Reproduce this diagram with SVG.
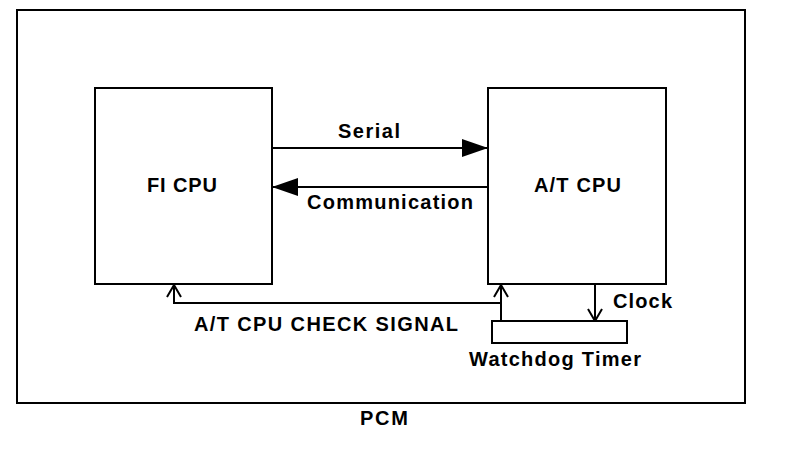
<svg xmlns="http://www.w3.org/2000/svg" width="800" height="454" viewBox="0 0 800 454">
<style>
.box{fill:#fff;stroke:#000;stroke-width:2}
.ln{fill:none;stroke:#000;stroke-width:2}
.t{font-family:"Liberation Sans",Arial,sans-serif;font-weight:bold;font-size:20px;fill:#000}
</style>
<defs>
<marker id="fill" markerUnits="userSpaceOnUse" markerWidth="26" markerHeight="20" refX="26" refY="10" orient="auto">
<path d="M0,1 L26,10 L0,19 Z" fill="#000"/>
</marker>
<marker id="open" markerUnits="userSpaceOnUse" markerWidth="14" markerHeight="20" refX="13" refY="10" orient="auto">
<path d="M1,3 L13,10 L1,17" fill="none" stroke="#000" stroke-width="2"/>
</marker>
</defs>
<rect width="800" height="454" fill="#fff"/>
<g id="pcm">
<rect class="box" x="17" y="10" width="728" height="393" fill="none"/>
<text class="t" x="360" y="425" textLength="48" lengthAdjust="spacing">PCM</text>
</g>
<g id="fi-cpu">
<rect class="box" x="95" y="88" width="177" height="196"/>
<text class="t" x="147" y="192" textLength="70" lengthAdjust="spacing">FI CPU</text>
</g>
<g id="at-cpu">
<rect class="box" x="488" y="88" width="178" height="196"/>
<text class="t" x="534" y="192" textLength="87" lengthAdjust="spacing">A/T CPU</text>
</g>
<g id="watchdog">
<rect class="box" x="492" y="321" width="135" height="22"/>
<text class="t" x="469" y="366" textLength="172" lengthAdjust="spacing">Watchdog Timer</text>
</g>
<g id="connectors">
<line class="ln" x1="272" y1="148" x2="488" y2="148" marker-end="url(#fill)"/>
<line class="ln" x1="488" y1="187" x2="272" y2="187" marker-end="url(#fill)"/>
<polyline class="ln" points="501,321 501,285" marker-end="url(#open)"/>
<polyline class="ln" points="501,303 174,303 174,285" marker-end="url(#open)"/>
<polyline class="ln" points="595,284 595,321" marker-end="url(#open)"/>
<text class="t" x="338" y="138" textLength="62" lengthAdjust="spacing">Serial</text>
<text class="t" x="307" y="209" textLength="166" lengthAdjust="spacing">Communication</text>
<text class="t" x="194" y="331" textLength="264" lengthAdjust="spacing">A/T CPU CHECK SIGNAL</text>
<text class="t" x="613" y="308" textLength="59" lengthAdjust="spacing">Clock</text>
</g>
</svg>
